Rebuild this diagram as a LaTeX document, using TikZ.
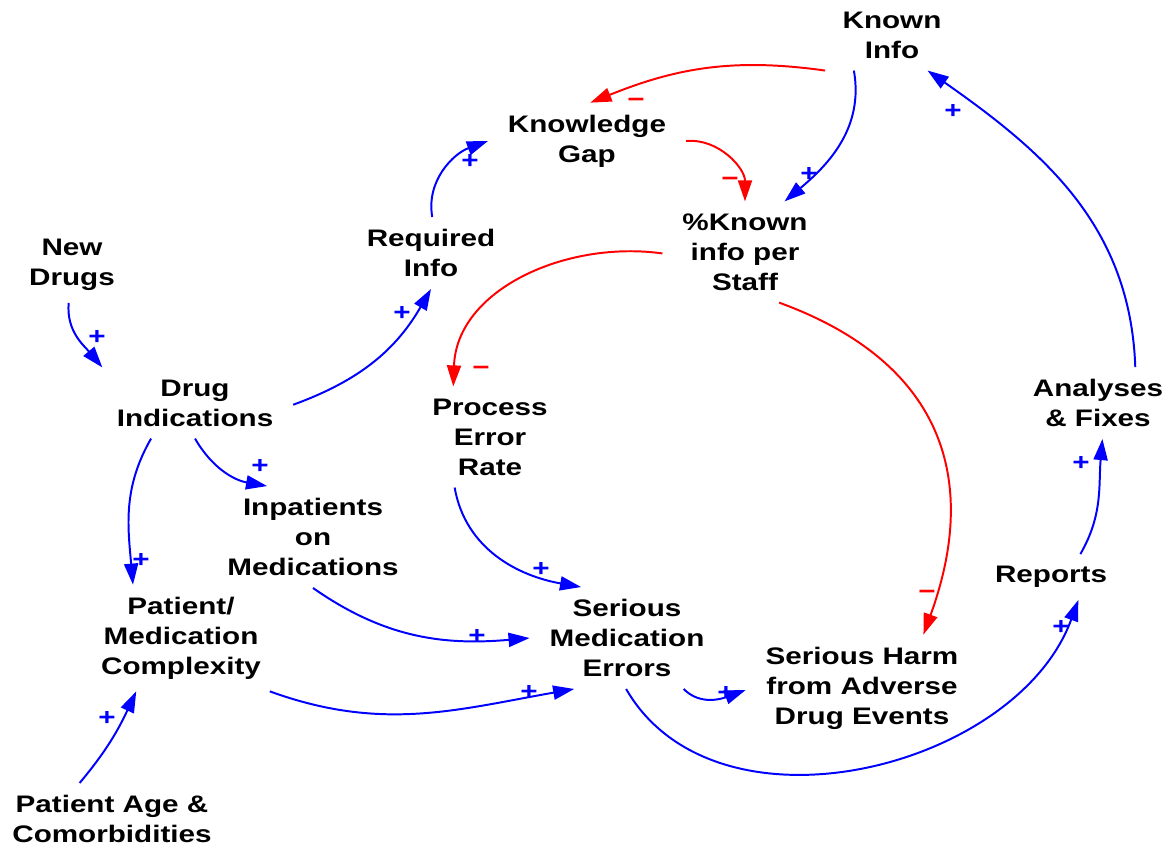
\documentclass[tikz,border=0pt]{standalone}
\usepackage{fontspec}
\setmainfont{Liberation Sans}[FakeStretch=1.24]
\usetikzlibrary{arrows.meta}

\tikzset{
  cvar/.style={font=\bfseries\fontsize{17}{21.3}\selectfont, align=center, inner xsep=14pt, inner ysep=8.5pt},
  pos link/.style={blue, line width=1.4pt, -{Triangle[length=15pt,width=10pt]}},
  neg link/.style={red, line width=1.4pt, -{Triangle[length=15pt,width=10pt]}},
  sgn/.style={font=\bfseries\fontsize{17}{17}\selectfont, inner sep=0pt},
}

\begin{document}
\begin{tikzpicture}[x=0.025cm, y=0.025cm]
  \useasboundingbox (0,0) rectangle (1175,-850);

  % variables
  \node[cvar] (known) at (892,-35) {Known\\Info};
  \node[cvar] (gap) at (587,-141) {Knowledge\\Gap};
  \node[cvar] (pkn) at (745,-252) {\%Known\\info per\\Staff};
  \node[cvar] (req) at (431,-253) {Required\\Info};
  \node[cvar] (new) at (72,-265) {New\\Drugs};
  \node[cvar] (ind) at (195,-403) {Drug\\Indications};
  \node[cvar] (per) at (490,-437) {Process\\Error\\Rate};
  \node[cvar] (fix) at (1098,-403) {Analyses\\\& Fixes};
  \node[cvar] (inp) at (313,-537) {Inpatients\\on\\Medications};
  \node[cvar] (rep) at (1051,-577) {Reports};
  \node[cvar] (cpx) at (181,-638) {Patient/\\Medication\\Complexity};
  \node[cvar] (sme) at (627,-638) {Serious\\Medication\\Errors};
  \node[cvar] (harm) at (862,-688) {Serious Harm\\from Adverse\\Drug Events};
  \node[cvar] (age) at (112,-819) {Patient Age \&\\Comorbidities};

  % links
  \draw[neg link] (known.208) to[out=172, in=22] (gap.85);
  \draw[pos link] (known.223) to[out=-80, in=40] (pkn.52);
  \draw[neg link] (gap.0) to[out=5, in=90] (pkn.90);
  \draw[pos link] (req.88) to[out=100, in=200] (gap.180);
  \draw[pos link] (ind.-1) to[out=20, in=240] (req.270);
  \draw[pos link] (new.265) to[out=-95, in=130] (ind.159);
  \draw[neg link] (pkn.181) to[out=172, in=88] (per.126);
  \draw[neg link] (pkn.304) to[out=-20, in=70, looseness=1.2] (harm.41);
  \draw[pos link] (ind.270) to[out=-60, in=170] (inp.132);
  \draw[pos link] (ind.219) to[out=-120, in=95] (cpx.132);
  \draw[pos link] (per.235) to[out=-80, in=170] (sme.132);
  \draw[pos link] (inp.270) to[out=-35, in=185] (sme.180);
  \draw[pos link] (cpx.329) to[out=-20, in=190] (sme.224);
  \draw[pos link] (age.132) to[out=50, in=-115] (cpx.230);
  \draw[pos link] (sme.318) to[out=-45, in=200] (harm.181);
  \draw[pos link] (sme.269) to[out=-60, in=-110] (rep.320);
  \draw[pos link] (rep.38) to[out=60, in=-95] (fix.277);
  \draw[pos link] (fix.44) to[out=92, in=-35] (known.315);

  % polarities
  \node[sgn, red] (s1) at (636,-103) {−};
  \node[sgn, blue] (s2) at (809,-174) {+};
  \node[sgn, red] (s3) at (730,-182) {−};
  \node[sgn, blue] (s4) at (470,-161) {+};
  \node[sgn, blue] (s5) at (402,-313) {+};
  \node[sgn, blue] (s6) at (97,-337) {+};
  \node[sgn, red] (s7) at (481,-371) {−};
  \node[sgn, red] (s8) at (927,-595) {−};
  \node[sgn, blue] (s9) at (260,-466) {+};
  \node[sgn, blue] (s10) at (141,-560) {+};
  \node[sgn, blue] (s11) at (541,-569) {+};
  \node[sgn, blue] (s12) at (477,-636) {+};
  \node[sgn, blue] (s13) at (529,-692) {+};
  \node[sgn, blue] (s14) at (107,-718) {+};
  \node[sgn, blue] (s15) at (726,-693) {+};
  \node[sgn, blue] (s16) at (1061,-627) {+};
  \node[sgn, blue] (s17) at (1081,-463) {+};
  \node[sgn, blue] (s18) at (953,-111) {+};
\end{tikzpicture}
\end{document}
